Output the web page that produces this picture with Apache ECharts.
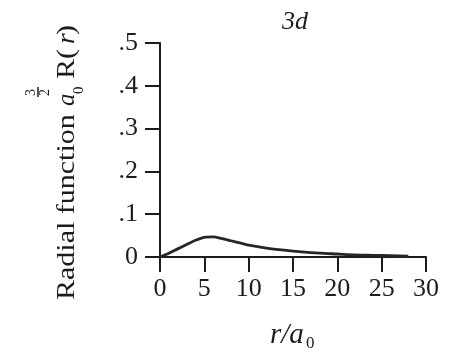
<!DOCTYPE html>
<html>
<head>
<meta charset="utf-8">
<script src="https://cdn.jsdelivr.net/npm/echarts@6/dist/echarts.min.js"></script>
<style>
  html, body { margin: 0; padding: 0; background: #fff; }
  #chart { width: 457px; height: 355px; }
</style>
</head>
<body>
<div id="chart"></div>
<script>
// Radial function of the hydrogen 3d orbital, in units of a0^(-3/2)
const radius = [0, 1, 2, 3, 4, 5, 6, 7, 8, 9, 10, 12, 14, 16, 18, 20, 22, 24, 26, 28];
const radial = [0, 0.009, 0.019, 0.029, 0.039, 0.046, 0.047, 0.043, 0.038, 0.033, 0.028,
                0.021, 0.016, 0.012, 0.009, 0.007, 0.005, 0.004, 0.003, 0.002];
const xTicks = [0, 5, 10, 15, 20, 25, 30];
const yTickText = { 0: '0', 0.1: '.1', 0.2: '.2', 0.3: '.3', 0.4: '.4', 0.5: '.5' };

const ink = '#1c1c1c';
const serif = '"Liberation Serif", "DejaVu Serif", serif';

const chart = echarts.init(document.getElementById('chart'), null, { renderer: 'canvas' });

// Rotated pieces of the y-axis title: "Radial function a0^(3/2) R(r)"
function upText(text, x, y, size, italic, sx) {
  return {
    type: 'text', x: x, y: y, rotation: Math.PI / 2, scaleX: sx || 1.2,
    style: {
      text: text, fill: ink, align: 'left', verticalAlign: 'middle',
      font: (italic ? 'italic ' : '') + size + 'px ' + serif
    }
  };
}

chart.setOption({
  animation: false,
  backgroundColor: '#fff',
  title: {
    text: '3d', left: 277, top: 4,
    textStyle: { fontFamily: serif, fontStyle: 'italic', fontWeight: 'normal', fontSize: 26, color: ink }
  },
  grid: { left: 160, right: 31, top: 43, bottom: 98 },
  xAxis: {
    type: 'value', min: 0, max: 30, interval: 5,
    axisLine: { lineStyle: { color: ink, width: 2 } },
    axisTick: { length: 15, lineStyle: { color: ink, width: 2 } },
    axisLabel: { margin: 19, fontFamily: serif, fontSize: 26, color: ink,
                 formatter: v => xTicks.includes(v) ? String(v) : '' },
    splitLine: { show: false }
  },
  yAxis: {
    type: 'value', min: 0, max: 0.5, interval: 0.1,
    axisLine: { show: true, lineStyle: { color: ink, width: 2 } },
    axisTick: { show: true, length: 15, lineStyle: { color: ink, width: 2 } },
    axisLabel: { margin: 22, fontFamily: serif, fontSize: 26, color: ink,
                 formatter: v => yTickText[Math.round(v * 10) / 10] },
    splitLine: { show: false }
  },
  series: [{
    type: 'line',
    data: radius.map((r, i) => [r, radial[i]]),
    smooth: 0.3,
    showSymbol: false,
    lineStyle: { color: '#262626', width: 2.8 }
  }],
  graphic: [
    upText('Radial function', 67, 300, 25, false),
    upText('a', 67, 106, 25, true, 1.0),
    upText('0', 79, 94, 15, false, 1.0),
    upText('3', 31, 96, 14, false, 1.0),
    { type: 'line', shape: { x1: 38, y1: 97, x2: 38, y2: 87 }, style: { stroke: ink, lineWidth: 1.5 } },
    upText('2', 45, 96, 14, false, 1.0),
    upText('R(', 67, 79, 25, false),
    upText('r', 67, 44, 25, true, 1.1),
    upText(')', 67, 35, 25, false),
    {
      type: 'text', x: 270, y: 335,
      style: { text: 'r/a', fill: ink, align: 'left', verticalAlign: 'middle', font: 'italic 29px ' + serif }
    },
    {
      type: 'text', x: 306, y: 344,
      style: { text: '0', fill: ink, align: 'left', verticalAlign: 'middle', font: '17px ' + serif }
    }
  ]
});
</script>
</body>
</html>
